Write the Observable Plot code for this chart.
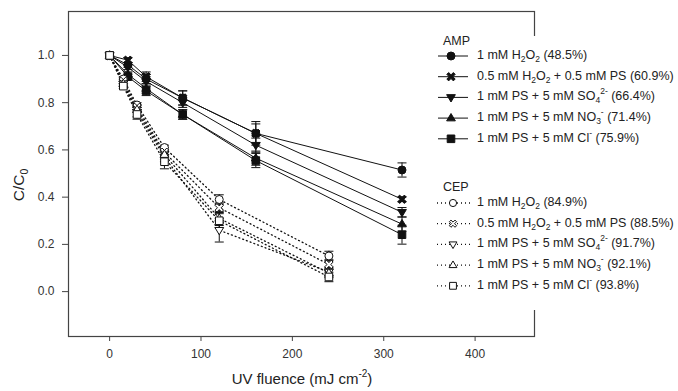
<!DOCTYPE html>
<html><head><meta charset="utf-8">
<script src="https://cdn.jsdelivr.net/npm/d3@7"></script>
<script src="https://cdn.jsdelivr.net/npm/@observablehq/plot@0.6"></script>
<style>body{margin:0;background:#fff;font-family:"Liberation Sans",Arial,sans-serif;}</style>
</head><body><div id="chart"></div>
<script>
const ampX = [0, 20, 40, 80, 160, 320];
const cepX = [0, 15, 30, 60, 120, 240];
const seriesKeys = ["h2o2", "mix", "so4", "no3", "cl"];
const ampY = {
  h2o2: [1, 0.96, 0.90, 0.82, 0.67, 0.515],
  mix:  [1, 0.98, 0.91, 0.82, 0.67, 0.391],
  so4:  [1, 0.95, 0.89, 0.80, 0.62, 0.336],
  no3:  [1, 0.92, 0.86, 0.75, 0.565, 0.286],
  cl:   [1, 0.91, 0.85, 0.75, 0.555, 0.241]
};
const ampErr = {
  h2o2: [0, 0.01, 0.02, 0.03, 0.05, 0.03],
  mix:  [0, 0.01, 0.02, 0.03, 0.04, 0.01],
  so4:  [0, 0.01, 0.02, 0.02, 0.03, 0.02],
  no3:  [0, 0.01, 0.02, 0.02, 0.03, 0.03],
  cl:   [0, 0.01, 0.02, 0.02, 0.03, 0.04]
};
const cepY = {
  h2o2: [1, 0.90, 0.79, 0.61, 0.39, 0.151],
  mix:  [1, 0.89, 0.78, 0.59, 0.355, 0.115],
  so4:  [1, 0.88, 0.76, 0.57, 0.26, 0.083],
  no3:  [1, 0.88, 0.77, 0.58, 0.31, 0.079],
  cl:   [1, 0.87, 0.75, 0.55, 0.30, 0.062]
};
const cepErr = {
  h2o2: [0, 0.01, 0.01, 0.01, 0.02, 0.02],
  mix:  [0, 0.01, 0.01, 0.02, 0.02, 0.02],
  so4:  [0, 0.01, 0.02, 0.02, 0.05, 0.02],
  no3:  [0, 0.01, 0.01, 0.02, 0.03, 0.02],
  cl:   [0, 0.01, 0.02, 0.03, 0.03, 0.02]
};
const ampLabels = [
  [["1 mM H"],["2","sub"],["O"],["2","sub"],[" (48.5%)"]],
  [["0.5 mM H"],["2","sub"],["O"],["2","sub"],[" + 0.5 mM PS (60.9%)"]],
  [["1 mM PS + 5 mM SO"],["4","sub"],["2-","sup"],[" (66.4%)"]],
  [["1 mM PS + 5 mM NO"],["3","sub"],["-","sup"],[" (71.4%)"]],
  [["1 mM PS + 5 mM Cl"],["-","sup"],[" (75.9%)"]]
];
const cepLabels = [
  [["1 mM H"],["2","sub"],["O"],["2","sub"],[" (84.9%)"]],
  [["0.5 mM H"],["2","sub"],["O"],["2","sub"],[" + 0.5 mM PS (88.5%)"]],
  [["1 mM PS + 5 mM SO"],["4","sub"],["2-","sup"],[" (91.7%)"]],
  [["1 mM PS + 5 mM NO"],["3","sub"],["-","sup"],[" (92.1%)"]],
  [["1 mM PS + 5 mM Cl"],["-","sup"],[" (93.8%)"]]
];
const xTicks = [0, 100, 200, 300, 400];
const yTicks = [0, 0.2, 0.4, 0.6, 0.8, 1.0];

// custom symbols
const rOf = s => Math.sqrt(s / Math.PI);
const downTri = {draw(c, s){ const r = rOf(s)*1.15; c.moveTo(0, r); c.lineTo(-r*0.95, -r*0.6); c.lineTo(r*0.95, -r*0.6); c.closePath(); }};
const upTri = {draw(c, s){ const r = rOf(s)*1.15; c.moveTo(0, -r); c.lineTo(-r*0.95, r*0.6); c.lineTo(r*0.95, r*0.6); c.closePath(); }};
const sq = {draw(c, s){ const r = rOf(s)*0.95; c.rect(-r, -r, 2*r, 2*r); }};
const xShape = {draw(c, s){
  const r = rOf(s)*1.1, w = r*0.28;
  const pts = [[-w,-r],[w,-r],[w,-w],[r,-w],[r,w],[w,w],[w,r],[-w,r],[-w,w],[-r,w],[-r,-w],[-w,-w]];
  const a = Math.PI/4, ca = Math.cos(a), sa = Math.sin(a);
  pts.forEach(([x,y],i) => { const X = x*ca - y*sa, Y = x*sa + y*ca; i ? c.lineTo(X,Y) : c.moveTo(X,Y); });
  c.closePath();
}};
const hline = {draw(c, s){ const r = rOf(s); c.moveTo(-r, 0); c.lineTo(r, 0); }};
const symbols = {h2o2: d3.symbolCircle, mix: xShape, so4: downTri, no3: upTri, cl: sq};
const radius = {h2o2: 4, mix: 4.2, so4: 4, no3: 4, cl: 4};

function rows(xs, ys, es, group){
  const out = [];
  seriesKeys.forEach(k => xs.forEach((x, i) => out.push({x, y: ys[k][i], e: es[k][i], k, group})));
  return out;
}
const amp = rows(ampX, ampY, ampErr, "AMP");
const cep = rows(cepX, cepY, cepErr, "CEP");

function layer(data, open){
  const marks = [];
  seriesKeys.forEach(k => {
    const d = data.filter(r => r.k === k);
    marks.push(Plot.line(d, {x: "x", y: "y", stroke: "#111", strokeWidth: open ? 1.3 : 1,
      strokeDasharray: open ? "1,3" : null}));
  });
  const eb = data.filter(r => r.e > 0);
  marks.push(Plot.ruleX(eb, {x: "x", y1: d => d.y - d.e, y2: d => d.y + d.e, stroke: "#111", strokeWidth: 1}));
  marks.push(Plot.dot(eb, {x: "x", y: d => d.y + d.e, symbol: () => hline, r: 4.5, stroke: "#111", strokeWidth: 1}));
  marks.push(Plot.dot(eb, {x: "x", y: d => d.y - d.e, symbol: () => hline, r: 4.5, stroke: "#111", strokeWidth: 1}));
  seriesKeys.forEach(k => {
    const d = data.filter(r => r.k === k);
    marks.push(Plot.dot(d, {x: "x", y: "y", symbol: () => symbols[k], r: radius[k],
      fill: open ? "white" : "#111", stroke: "#111", strokeWidth: 1}));
  });
  return marks;
}

const plot = Plot.plot({
  width: 678, height: 391,
  marginLeft: 68, marginRight: 144, marginTop: 11, marginBottom: 55,
  style: {fontFamily: "Liberation Sans, Arial, sans-serif", fontSize: "11px", color: "#333", background: "white"},
  x: {domain: [-45, 465]},
  y: {domain: [-0.19, 1.186]},
  marks: [
    Plot.frame({stroke: "#444", strokeWidth: 1.2}),
    Plot.axisX({ticks: xTicks, tickSize: 5, tickPadding: 8, label: null, fontSize: 12, stroke: "#444"}),
    Plot.axisY({ticks: yTicks, tickSize: 6, tickPadding: 8, tickFormat: d3.format(".1f"), label: null, fontSize: 12, stroke: "#444"}),
    ...layer(amp, false),
    ...layer(cep, true)
  ]
});
document.getElementById("chart").appendChild(plot);

const svg = d3.select(plot);
const FONT = "Liberation Sans, Arial, sans-serif";
function richText(g, parts, x, y, size){
  const t = g.append("text").attr("x", x).attr("y", y).attr("font-family", FONT).attr("text-anchor", "start")
    .attr("font-size", size).attr("fill", "#222").attr("dominant-baseline", "middle");
  let shift = 0;
  parts.forEach(([s, kind]) => {
    const target = kind === "sub" ? size*0.32 : kind === "sup" ? -size*0.4 : 0;
    const ts = t.append("tspan").text(s).attr("dy", target - shift);
    if (kind) ts.attr("font-size", size*0.68);
    shift = target;
  });
  return t;
}
// axis titles
const xt = svg.append("text").attr("x", 302).attr("y", 380).attr("text-anchor", "middle")
  .attr("font-family", FONT).attr("font-size", 15).attr("fill", "#222").attr("dominant-baseline", "middle");
xt.append("tspan").text("UV fluence (mJ cm");
xt.append("tspan").text("-2").attr("font-size", 10).attr("dy", -6);
xt.append("tspan").text(")").attr("dy", 6);
const yt = svg.append("text").attr("transform", "translate(20,185) rotate(-90)").attr("text-anchor", "middle")
  .attr("font-family", FONT).attr("font-size", 15.5).attr("fill", "#222").attr("dominant-baseline", "middle");
yt.append("tspan").text("C/C");
yt.append("tspan").text("0").attr("font-size", 10.5).attr("dy", 4.5);

// legend
const lg = svg.append("g").attr("text-anchor", "start");
lg.append("rect").attr("x", 420).attr("y", 36).attr("width", 258).attr("height", 274).attr("fill", "white");
function legendBlock(title, labels, y0, ty, open){
  lg.append("text").attr("x", 443).attr("y", ty).text(title).attr("font-family", FONT).attr("text-anchor", "start")
    .attr("font-size", 12.5).attr("fill", "#222").attr("dominant-baseline", "middle");
  labels.forEach((parts, i) => {
    const y = y0 + i*20.7;
    const k = seriesKeys[i];
    lg.append("line").attr("x1", open ? 437 : 438).attr("x2", open ? 471 : 468).attr("y1", y).attr("y2", y)
      .attr("stroke", "#111").attr("stroke-width", open ? 1.3 : 1).attr("stroke-dasharray", open ? "1,3" : null);
    const r = open ? 3.6 : radius[k];
    lg.append("path").attr("d", d3.symbol(symbols[k], Math.PI*r*r)())
      .attr("transform", `translate(${open ? 453 : 451},${y})`)
      .attr("fill", open ? "white" : "#111").attr("stroke", "#111");
    richText(lg, parts, 477, y, 12.5);
  });
}
legendBlock("AMP", ampLabels, 56, 42, false);
legendBlock("CEP", cepLabels, 203, 188, true);
</script></body></html>
